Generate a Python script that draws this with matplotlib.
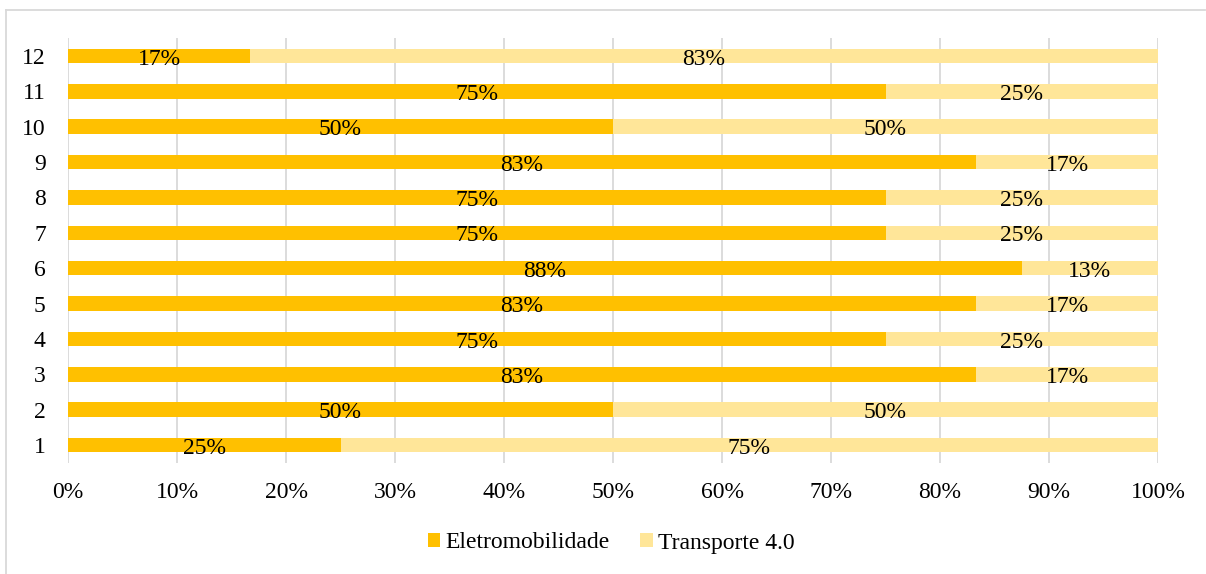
import math

import matplotlib.pyplot as plt
from matplotlib.lines import Line2D
import numpy as np

plt.rcParams["font.family"] = ["Liberation Serif", "DejaVu Serif"]

categories = ["1", "2", "3", "4", "5", "6", "7", "8", "9", "10", "11", "12"]
eletro = [25, 50, 83.3, 75, 83.3, 87.5, 75, 75, 83.3, 50, 75, 16.7]
transp = [75, 50, 16.7, 25, 16.7, 12.5, 25, 25, 16.7, 50, 25, 83.3]
series_names = ["Eletromobilidade", "Transporte 4.0"]
colors = ["#FFC000", "#FFE699"]

FS = 17
W, H = 1206, 574
fig = plt.figure(figsize=(W / 100, H / 100), dpi=100)
ax = fig.add_axes([68 / W, 1 - 462.7 / H, (1158 - 68) / W, (462.7 - 38.3) / H])

y = np.arange(1, len(categories) + 1)
bar_h = 0.41
ax.barh(y, eletro, height=bar_h, color=colors[0], label=series_names[0], zorder=2)
ax.barh(y, transp, left=eletro, height=bar_h, color=colors[1], label=series_names[1], zorder=2)


def pct(v):
    return f"{math.floor(v + 0.5)}%"


for yi, a, b in zip(y, eletro, transp):
    ax.text(a / 2, yi - 0.09, pct(a), ha="center", va="center", fontsize=FS, zorder=3)
    ax.text(a + b / 2, yi - 0.09, pct(b), ha="center", va="center", fontsize=FS, zorder=3)

ax.set_xlim(0, 100)
ax.set_ylim(0.5, len(categories) + 0.5)
ax.set_xticks(np.arange(0, 101, 10))
ax.set_xticklabels([f"{t}%" for t in range(0, 101, 10)])
ax.set_yticks(y)
ax.set_yticklabels(categories)
ax.tick_params(axis="both", length=0, labelsize=FS)
ax.tick_params(axis="x", pad=14)
ax.tick_params(axis="y", pad=16)
ax.grid(axis="x", color="#D9D9D9", linewidth=1.3, zorder=0)
for s in ax.spines.values():
    s.set_visible(False)

fig.legend(
    loc="center", bbox_to_anchor=(611 / W, 1 - 543 / H), ncol=2, frameon=False,
    fontsize=FS, handlelength=0.55, handleheight=0.55, handletextpad=0.2,
    columnspacing=1.3,
)

# light frame around the chart area
fig.add_artist(Line2D([5.5 / W, 5.5 / W], [0, 1 - 9.5 / H], color="#D9D9D9", lw=1.3))
fig.add_artist(Line2D([5.5 / W, 1205 / W], [1 - 9.5 / H, 1 - 9.5 / H], color="#D9D9D9", lw=1.3))

fig.savefig("out.png", dpi=100)
